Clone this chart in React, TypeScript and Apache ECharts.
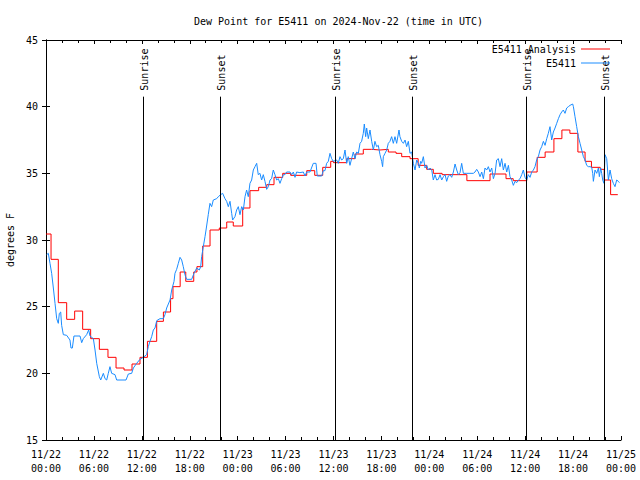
import React, { useEffect, useRef } from "react";
import * as echarts from "echarts";

// Hours since 2024-11-22 00:00 UTC
const analysisHours = [
  0, 0.63, 1.54, 2.59, 3.59, 4.59, 5.59, 6.68, 7.76, 8.77, 9.77, 10.77, 11.77, 12.7, 13.86,
  14.7, 15.6, 15.9, 16.8, 17.5, 18.5, 18.9, 19.62, 20.54, 21.7, 22.63, 23.45, 24.63, 25.54,
  26.63, 27.64, 28.55, 29.64, 30.64, 32.65, 33.65, 34.65, 35.65, 36.0, 37.65, 38.7, 39.73,
  40.78, 41.8, 42.86, 43.83, 44.54, 45.58, 46.6, 47.67, 48.5, 49.6, 52.7, 55.6, 57.6, 58.5,
  60.2, 61.5, 62.5, 63.6, 64.6, 65.6, 66.6, 67.5, 68.3, 69.4, 69.9, 70.7, 71.6,
];
const analysisValues = [
  30.45, 28.55, 25.3, 24.05, 24.67, 23.3, 22.6, 21.8, 21.2, 20.4, 20.25, 20.7, 21.2, 22.4, 23.9,
  24.6, 25.6, 26.5, 27.6, 26.9, 27.6, 28.0, 29.55, 30.75, 30.9, 31.35, 31.05, 32.4, 33.7,
  33.95, 34.15, 34.7, 35.0, 34.85, 35.2, 34.85, 35.45, 35.9, 35.8, 36.1, 36.45, 36.8,
  36.75, 36.8, 36.6, 36.5, 36.25, 36.1, 35.6, 35.3, 35.0, 34.9, 34.45, 34.95, 34.6, 34.45,
  35.1, 36.2, 36.6, 37.6, 38.25, 38.0, 36.6, 35.9, 35.45, 35.3, 34.5, 33.4, 33.4,
];

const stationHours = [
  0.08, 0.29, 0.5, 0.71, 0.92, 1.13, 1.34, 1.54, 1.67, 1.84, 1.96, 2.17, 2.59, 3.0, 3.13, 3.3,
  3.5, 4.26, 4.47, 4.67, 5.09, 5.34, 5.51, 5.93, 6.14, 6.35, 6.68, 6.85, 7.18, 7.39, 7.6, 7.8,
  8.01, 8.22, 8.64, 8.85, 10.02, 10.31, 10.73, 10.94, 11.35, 11.77, 12.19, 12.6, 12.81, 13.02,
  13.23, 13.44, 13.65, 13.86, 14.27, 14.69, 14.9, 15.11, 15.53, 15.74, 16.03, 16.15, 16.36,
  16.57, 16.78, 16.99, 17.19, 17.4, 17.61, 18.24, 18.53, 18.87, 19.2, 19.37, 19.49, 19.7,
  19.91, 20.04, 20.32, 20.53, 20.74, 20.95, 21.37, 21.58, 21.87, 22.12, 22.41, 22.62, 22.83,
  23.04, 23.25, 23.37, 23.66, 23.87, 24.08, 24.29, 24.5, 24.71, 24.92, 25.12, 25.33, 25.54,
  25.75, 25.96, 26.17, 26.38, 26.58, 26.79, 27.0, 27.21, 27.42, 27.63, 27.84, 28.05, 28.25,
  28.46, 28.67, 28.88, 29.09, 29.3, 29.51, 29.72, 29.92, 30.13, 30.55, 30.76, 30.97, 31.18,
  31.38, 31.8, 32.22, 32.43, 32.64, 33.05, 33.47, 33.81, 33.97, 34.52, 34.72, 34.93, 35.14,
  35.35, 35.56, 35.77, 35.98, 36.39, 36.6, 36.81, 37.02, 37.23, 37.44, 37.65, 37.85, 38.06,
  38.27, 38.48, 38.69, 38.9, 39.11, 39.32, 39.52, 39.73, 39.86, 40.03, 40.15, 40.36, 40.57,
  40.78, 40.99, 41.19, 41.4, 41.61, 41.82, 42.03, 42.15, 42.24, 42.45, 42.66, 42.86, 43.07,
  43.28, 43.49, 43.7, 43.91, 44.2, 44.32, 44.54, 44.75, 44.96, 45.16, 45.37, 45.58, 45.79,
  46.0, 46.21, 46.42, 46.63, 46.75, 46.92, 47.04, 47.25, 47.46, 47.67, 47.88, 48.09, 48.3,
  48.5, 48.71, 48.92, 49.13, 49.34, 49.55, 49.76, 49.97, 50.17, 50.38, 50.59, 50.8, 51.01,
  51.22, 51.43, 51.63, 51.84, 52.05, 52.26, 52.68, 53.09, 53.51, 53.72, 53.93, 54.14, 54.35,
  54.56, 54.77, 54.97, 55.18, 55.39, 55.6, 55.81, 56.02, 56.23, 56.43, 56.64, 56.85, 57.06,
  57.27, 57.48, 57.69, 57.9, 58.1, 58.31, 58.52, 58.73, 58.94, 59.15, 59.36, 59.57, 59.77,
  59.98, 60.19, 60.4, 60.61, 60.82, 61.03, 61.23, 61.44, 61.65, 61.86, 62.07, 62.28, 62.49,
  62.7, 62.9, 63.11, 63.32, 63.53, 63.74, 63.95, 64.16, 64.37, 64.57, 64.78, 64.99, 65.2,
  65.41, 65.62, 65.95, 66.04, 66.24, 66.45, 66.66, 66.87, 67.08, 67.29, 67.5, 67.7, 67.91,
  68.12, 68.33, 68.46, 68.54, 68.75, 68.96, 69.17, 69.29, 69.46, 69.58, 69.71, 69.87, 70.0,
  70.21, 70.42, 70.63, 70.83, 71.04, 71.25, 71.46, 71.67, 71.8,
];
const stationValues = [
  28.9, 29.0, 28.25, 27.5, 26.4, 25.25, 24.1, 23.75, 24.5, 24.6, 23.6, 22.9, 22.85, 22.5, 21.9, 21.9,
  22.8, 22.8, 22.3, 22.6, 22.9, 23.25, 22.8, 22.6, 21.75, 20.75, 19.75, 19.5, 20.0, 19.6, 19.5, 20.0,
  20.5, 20.0, 19.9, 19.5, 19.5, 19.95, 20.0, 20.4, 20.75, 21.05, 21.2, 21.4, 22.0, 22.4,
  22.75, 23.25, 23.4, 23.95, 24.1, 24.1, 24.4, 24.9, 25.5, 26.25, 26.9, 27.5, 27.8,
  28.25, 28.7, 28.5, 28.0, 27.4, 27.05, 27.05, 27.5, 27.9, 27.75, 28.0, 28.75, 29.5,
  30.25, 30.75, 31.9, 32.75, 32.5, 33.0, 33.1, 33.25, 33.4, 33.5, 33.1, 32.9, 32.5,
  32.9, 32.0, 31.5, 31.75, 32.25, 32.5, 31.9, 32.5, 32.25, 33.25, 33.75, 33.25, 34.25,
  34.5, 35.25, 35.5, 35.75, 34.9, 35.0, 34.5, 34.9, 34.4, 33.8, 34.0, 34.5, 34.6,
  35.25, 34.9, 34.5, 34.6, 34.25, 34.6, 34.9, 34.9, 35.1, 35.1, 34.9, 35.1, 34.7,
  35.1, 35.05, 35.1, 34.8, 35.1, 35.1, 35.75, 35.75, 34.8, 34.8, 35.2, 35.2, 35.75,
  35.9, 36.5, 36.1, 35.9, 36.0, 35.75, 36.25, 36.0, 36.1, 36.75, 35.75, 36.25, 35.6,
  36.1, 36.6, 36.1, 36.6, 36.5, 37.25, 37.4, 38.0, 38.7, 37.75, 38.4, 37.6, 38.25,
  37.4, 36.75, 37.4, 37.0, 37.1, 36.4, 35.9, 35.5, 36.25, 36.5, 36.75, 37.25, 37.4,
  37.75, 37.25, 37.75, 37.25, 38.25, 37.75, 37.4, 37.25, 37.5, 37.0, 37.4, 36.5, 36.6,
  35.75, 35.25, 36.0, 35.75, 35.4, 35.9, 35.75, 36.25, 35.4, 35.6, 35.25, 35.4, 35.25,
  34.5, 34.9, 34.5, 34.55, 34.9, 34.5, 34.75, 34.9, 34.4, 34.8, 34.9, 34.7, 35.1,
  35.7, 35.25, 34.9, 35.05, 35.75, 35.0, 35.0, 35.0, 35.0, 35.1, 35.3, 35.1, 34.75,
  35.1, 34.6, 35.4, 35.25, 35.5, 35.1, 35.4, 34.6, 35.0, 36.0, 36.1, 35.5, 36.1,
  35.25, 35.75, 35.1, 35.6, 34.75, 34.5, 34.1, 34.4, 34.3, 34.5, 34.6, 34.9, 35.25,
  34.7, 34.5, 34.9, 34.7, 35.1, 35.25, 35.5, 36.0, 36.25, 36.75, 37.0, 37.4, 37.1,
  37.6, 38.0, 38.5, 37.5, 38.1, 38.4, 38.75, 39.1, 39.4, 39.6, 39.75, 39.5, 39.9,
  40.0, 40.1, 40.2, 40.0, 39.25, 38.5, 37.75, 37.25, 36.75, 36.25, 36.0, 35.6, 35.5,
  35.5, 35.45, 35.0, 34.4, 35.25, 35.0, 35.4, 34.75, 35.4, 35.0, 34.5, 34.25, 36.4,
  36.1, 34.5, 35.25, 34.6, 34.25, 34.0, 34.5, 34.4, 34.3,
];

const eventNames = ["Sunrise", "Sunset", "Sunrise", "Sunset", "Sunrise", "Sunset"];
const eventHours = [12.18, 21.87, 36.21, 45.87, 60.16, 69.9];

const xTicks = [0, 6, 12, 18, 24, 30, 36, 42, 48, 54, 60, 66, 72];
const dayLabels = ["11/22", "11/23", "11/24", "11/25"];

const FONT = "DejaVu Sans Mono";

function fmtX(h: number): string {
  const d = Math.floor(h / 24);
  const hh = h % 24;
  return `${dayLabels[d]}\n${String(hh).padStart(2, "0")}:00`;
}

export default function App() {
  const ref = useRef<HTMLDivElement>(null);
  useEffect(() => {
    if (!ref.current) return;
    const chart = echarts.init(ref.current, undefined, { renderer: "svg" });
    const tickCommon = {
      axisLine: { show: true, lineStyle: { color: "#000", width: 1 } },
      splitLine: { show: false },
    };
    const xCommon = {
      type: "value" as const,
      min: xTicks[0],
      max: xTicks[xTicks.length - 1],
      interval: 6,
      ...tickCommon,
      axisTick: { show: true, inside: true, length: 4, lineStyle: { color: "#000" } },
      minorTick: { show: true, splitNumber: 3, length: 3, lineStyle: { color: "#000" } },
    };
    const yCommon = {
      type: "value" as const,
      min: 15,
      max: 45,
      interval: 5,
      ...tickCommon,
      axisTick: { show: true, inside: true, length: 4, lineStyle: { color: "#000" } },
    };
    const legendCommon = {
      right: 30,
      padding: 0,
      orient: "vertical",
      align: "right",
      icon: "rect",
      itemWidth: 29,
      itemHeight: 1,
      textStyle: { fontFamily: FONT, fontSize: 10, color: "#000" },
    };
    const option: any = {
      animation: false,
      backgroundColor: "#fff",
      textStyle: { fontFamily: FONT },
      title: {
        text: "Dew Point for E5411 on 2024-Nov-22 (time in UTC)",
        left: 189,
        top: 11,
        textStyle: { fontFamily: FONT, fontSize: 10, fontWeight: "normal", color: "#000" },
      },
      legend: [
        { ...legendCommon, data: ["E5411 Analysis"], top: 44 },
        { ...legendCommon, data: ["E5411"], top: 58 },
      ],
      grid: {
        left: 46,
        right: 19,
        top: 40,
        bottom: 40,
        containLabel: false,
        outerBoundsMode: "none",
      },
      xAxis: [
        {
          ...xCommon,
          position: "bottom",
          axisLabel: {
            show: true,
            formatter: (v: number) => fmtX(v),
            fontFamily: FONT,
            fontSize: 10,
            lineHeight: 14,
            color: "#000",
            margin: 7,
          },
        },
        { ...xCommon, position: "top", axisLabel: { show: false } },
      ],
      yAxis: [
        {
          ...yCommon,
          position: "left",
          name: "degrees F",
          nameLocation: "middle",
          nameRotate: 90,
          nameGap: 31,
          nameTextStyle: { fontFamily: FONT, fontSize: 10, color: "#000" },
          axisLabel: { fontFamily: FONT, fontSize: 10, color: "#000", margin: 8 },
        },
        { ...yCommon, position: "right", axisLabel: { show: false } },
      ],
      series: [
        {
          name: "E5411 Analysis",
          type: "line",
          step: "end",
          symbol: "none",
          color: "#ff0000",
          lineStyle: { color: "#ff0000", width: 1 },
          data: analysisHours.map((h, i) => [h, analysisValues[i]]),
          markLine: {
            silent: true,
            symbol: ["none", "none"],
            label: { show: false },
            lineStyle: { color: "#000", width: 1, type: "solid" },
            data: eventHours.map((h) => [{ coord: [h, 15] }, { coord: [h, 40.75] }]),
          },
        },
        {
          name: "E5411",
          type: "line",
          symbol: "none",
          color: "#1a8cff",
          lineStyle: { color: "#1a8cff", width: 1 },
          data: stationHours.map((h, i) => [h, stationValues[i]]),
        },
      ],
    };
    chart.setOption(option);
    const yPix = chart.convertToPixel({ yAxisIndex: 0 }, 41.2) as number;
    const graphic = eventHours.map((h, i) => {
      const xPix = chart.convertToPixel({ xAxisIndex: 0 }, h) as number;
      return {
        type: "text",
        x: xPix + 1,
        y: yPix,
        rotation: Math.PI / 2,
        silent: true,
        style: {
          text: eventNames[i],
          fill: "#000",
          font: `10px "${FONT}"`,
          align: "left",
          verticalAlign: "middle",
        },
      };
    });
    chart.setOption({ graphic });
    return () => chart.dispose();
  }, []);
  return (
    <div
      ref={ref}
      style={{ position: "fixed", left: 0, top: 0, width: 640, height: 480, background: "#fff" }}
    />
  );
}
